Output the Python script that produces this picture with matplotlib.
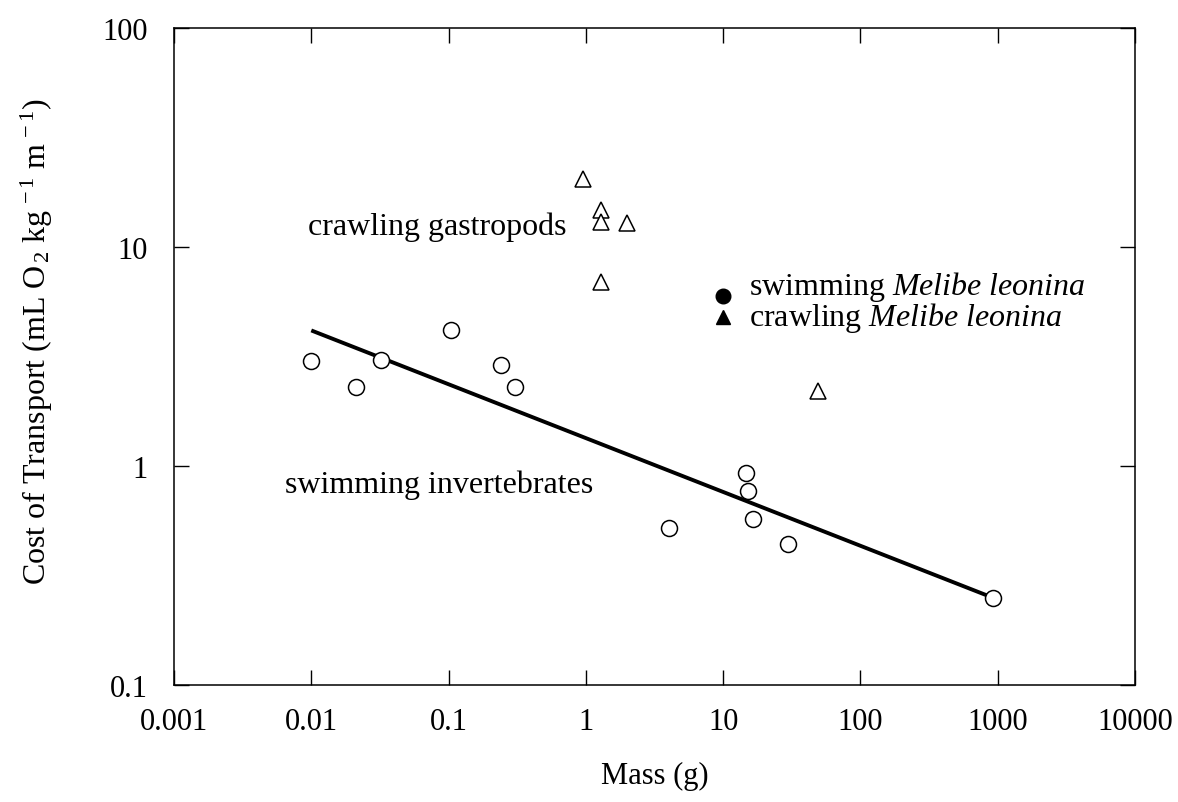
import matplotlib
matplotlib.use('Agg')
import matplotlib.pyplot as plt
from matplotlib.ticker import NullLocator

plt.rcParams['font.family'] = ['Liberation Serif', 'DejaVu Serif']
plt.rcParams['mathtext.fontset'] = 'custom'
plt.rcParams['mathtext.rm'] = 'Liberation Serif'
plt.rcParams['mathtext.it'] = 'Liberation Serif:italic'

# swimming invertebrates (open circles)
swim_mass = [0.010, 0.021, 0.032, 0.105, 0.24, 0.305, 4.05, 14.7, 15.2, 16.6, 29.5, 927]
swim_cot = [3.01, 2.30, 3.05, 4.18, 2.89, 2.29, 0.52, 0.93, 0.77, 0.57, 0.44, 0.25]

# crawling gastropods (open triangles)
crawl_mass = [0.95, 1.30, 1.28, 1.98, 1.30, 49.3]
crawl_cot = [20.4, 14.8, 13.0, 12.9, 6.9, 2.21]

# regression line for the swimmers
fit_mass = [0.01, 927]
fit_cot = [4.16, 0.25]

# Melibe leonina key symbols
melibe_mass = [10, 10]
melibe_cot = [6.0, 4.79]

xticks = [0.001, 0.01, 0.1, 1, 10, 100, 1000, 10000]
xlabels = ['0.001', '0.01', '0.1', '1', '10', '100', '1000', '10000']
yticks = [0.1, 1, 10, 100]
ylabels = ['0.1', '1', '10', '100']

fig = plt.figure(figsize=(11.78, 8.03), dpi=100)
ax = fig.add_axes([174/1178, 1 - 686/803, (1135-174)/1178, (686-29)/803])

ax.plot(fit_mass, fit_cot, color='black', lw=2.8, solid_capstyle='butt', zorder=2)
ax.plot(swim_mass, swim_cot, 'o', ms=11.5, mfc='white', mec='black', mew=1.1, zorder=3)
ax.plot(crawl_mass, crawl_cot, '^', ms=11, mfc='white', mec='black', mew=1.1, zorder=3)
ax.plot(melibe_mass[:1], melibe_cot[:1], 'o', ms=10.5, color='black', zorder=3)
ax.plot(melibe_mass[1:], melibe_cot[1:], '^', ms=10, color='black', zorder=3)

fs = 22
tfs = 23
ax.text(0.00946, 11.5, 'crawling gastropods', fontsize=tfs, va='baseline')
ax.text(0.00643, 0.764, 'swimming invertebrates', fontsize=tfs, va='baseline')
ax.text(15.5, 6.1, r'swimming $\mathit{Melibe\ leonina}$', fontsize=tfs, va='baseline')
ax.text(15.5, 4.42, r'crawling $\mathit{Melibe\ leonina}$', fontsize=tfs, va='baseline')

ax.set_xscale('log')
ax.set_yscale('log')
ax.set_xlim(0.001, 10000)
ax.set_ylim(0.1, 100)
ax.set_xticks(xticks)
ax.set_xticklabels(xlabels)
ax.set_yticks(yticks)
ax.set_yticklabels(ylabels)
ax.xaxis.set_minor_locator(NullLocator())
ax.yaxis.set_minor_locator(NullLocator())
ax.tick_params(which='major', direction='in', top=True, right=True, length=11,
               width=1.0, labelsize=fs)
ax.tick_params(axis='x', pad=16)
ax.tick_params(axis='y', pad=19)
for s in ax.spines.values():
    s.set_linewidth(1.1)

ax.set_xlabel('Mass (g)', fontsize=fs, labelpad=18)
ax.set_ylabel(r'Cost of Transport (mL O$_{\,2}$ kg$^{\,-1}$ m$^{\,-1}$)', fontsize=23)
ax.yaxis.set_label_coords(-0.124, 0.525)

fig.savefig('out.png', dpi=100)
